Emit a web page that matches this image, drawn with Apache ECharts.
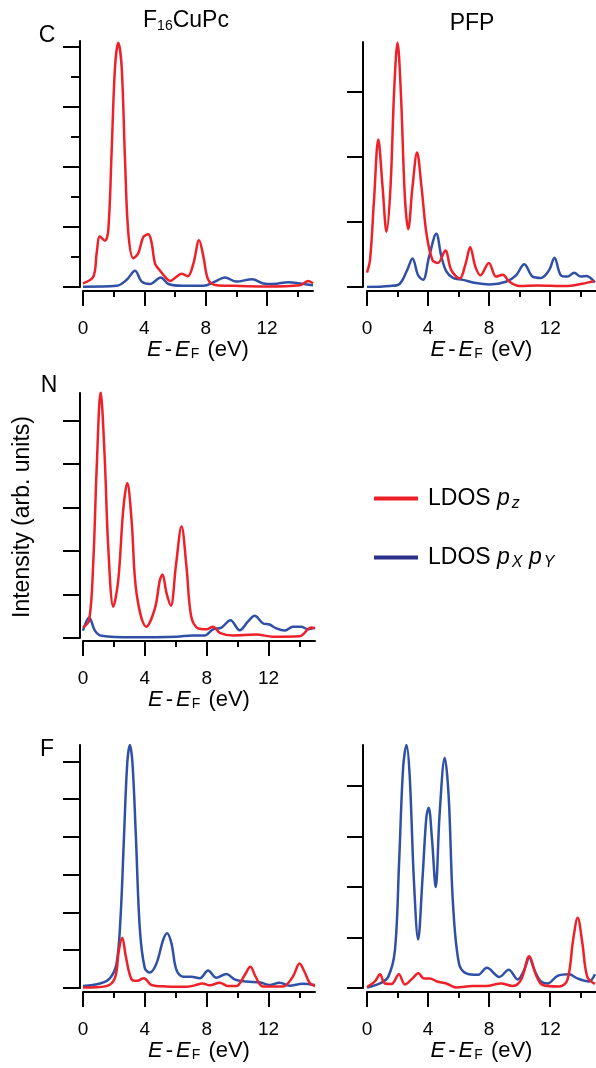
<!DOCTYPE html>
<html>
<head>
<meta charset="utf-8">
<script src="https://cdn.jsdelivr.net/npm/echarts@6/dist/echarts.min.js"></script>
<style>
  html, body { margin: 0; padding: 0; background: #fff; }
  #chart { width: 596px; height: 1068px; }
</style>
</head>
<body>
<div id="chart"></div>
<script>
// energy axis ticks (eV)
const energyTicks = [0, 4, 8, 12]
const energyMinorTicks = [2, 6, 10, 14]

// [E - EF (eV), intensity]
const cuC_pz = [[0, 0.06], [0.67, 0.17], [0.89, 0.56], [1.1, 0.84], [1.43, 0.77], [1.65, 0.95], [1.87, 2.28], [2.09, 3.67], [2.3, 4.07], [2.52, 3.67], [2.74, 2.12], [2.96, 0.89], [3.28, 0.48], [3.6, 0.56], [3.93, 0.83], [4.26, 0.88], [4.48, 0.73], [4.7, 0.39], [5.0, 0.28], [5.35, 0.17], [5.67, 0.1], [6.1, 0.17], [6.43, 0.22], [6.83, 0.18], [7.2, 0.39], [7.57, 0.78], [7.85, 0.51], [8.17, 0.12], [8.7, 0.03], [9.8, 0.02], [12.0, 0.01], [14.15, 0.03], [14.7, 0.1], [15, 0.06]]
const cuC_pxy = [[0, 0.005], [2.2, 0.02], [2.85, 0.12], [3.39, 0.27], [3.83, 0.09], [4.37, 0.05], [5.07, 0.16], [5.57, 0.05], [6.5, 0.02], [7.85, 0.02], [8.6, 0.09], [9.26, 0.16], [10.0, 0.09], [11.04, 0.13], [11.76, 0.06], [12.4, 0.05], [13.4, 0.08], [14.15, 0.06], [15, 0.03]]

const pfpC_pz = [[0, 0.22], [0.2, 0.42], [0.46, 1.34], [0.74, 2.27], [1.02, 1.54], [1.28, 0.85], [1.54, 1.54], [1.78, 3.03], [2.0, 3.76], [2.22, 2.98], [2.48, 1.39], [2.7, 0.89], [2.98, 1.54], [3.28, 2.07], [3.57, 1.54], [3.89, 0.83], [4.28, 0.42], [4.65, 0.37], [5.13, 0.56], [5.52, 0.26], [6.07, 0.13], [6.46, 0.36], [6.76, 0.61], [7.1, 0.31], [7.43, 0.18], [7.98, 0.37], [8.46, 0.16], [8.89, 0.19], [9.33, 0.08], [9.98, 0.015], [11.17, 0.025], [13.0, 0.015], [14.1, 0.05], [14.87, 0.09]]
const pfpC_pxy = [[0, 0], [1.5, 0.015], [2.15, 0.05], [2.63, 0.26], [2.98, 0.44], [3.35, 0.18], [3.67, 0.11], [4.07, 0.47], [4.54, 0.82], [4.87, 0.47], [5.2, 0.24], [5.63, 0.14], [6.28, 0.11], [7.15, 0.06], [8.02, 0.04], [9.1, 0.08], [9.76, 0.18], [10.3, 0.35], [10.85, 0.16], [11.39, 0.14], [11.93, 0.26], [12.28, 0.45], [12.7, 0.18], [13.13, 0.16], [13.57, 0.22], [14.0, 0.16], [14.37, 0.17], [14.93, 0.07]]

const cuN_pz = [[0, 0.24], [0.4, 0.41], [0.67, 1.79], [0.88, 3.86], [1.14, 5.65], [1.4, 4.17], [1.63, 2.1], [1.96, 0.72], [2.28, 1.33], [2.6, 2.94], [2.86, 3.56], [3.14, 2.71], [3.46, 1.03], [4.1, 0.26], [4.65, 0.68], [4.97, 1.33], [5.14, 1.46], [5.4, 1.03], [5.68, 0.74], [6.0, 1.64], [6.37, 2.56], [6.69, 1.64], [7.0, 0.49], [7.44, 0.22], [7.98, 0.2], [8.4, 0.26], [8.84, 0.12], [9.7, 0.06], [11.2, 0.08], [12.28, 0.03], [14.0, 0.04], [14.75, 0.24], [15, 0.22]]
const cuN_pxy = [[0, 0.17], [0.4, 0.47], [0.77, 0.17], [1.2, 0.05], [3.25, 0.015], [6.04, 0.03], [7.1, 0.06], [7.87, 0.06], [8.4, 0.2], [8.95, 0.24], [9.53, 0.41], [10.13, 0.18], [10.67, 0.38], [11.1, 0.51], [11.63, 0.34], [12.06, 0.31], [12.5, 0.22], [13.03, 0.17], [13.57, 0.26], [14.1, 0.26], [14.54, 0.2], [15, 0.24]]

const cuF_pz = [[0, 0.01], [1.5, 0.05], [2.06, 0.26], [2.32, 1.0], [2.54, 1.33], [2.77, 0.83], [3.14, 0.23], [3.5, 0.19], [3.94, 0.26], [4.43, 0.08], [5.4, 0.04], [6.69, 0.03], [7.22, 0.07], [7.72, 0.12], [8.19, 0.07], [8.84, 0.14], [9.38, 0.05], [9.91, 0.05], [10.45, 0.34], [10.82, 0.56], [11.16, 0.3], [11.63, 0.04], [12.92, 0.04], [13.57, 0.3], [14.0, 0.65], [14.32, 0.43], [14.65, 0.14], [15, 0.05]]
const cuF_pxy = [[0, 0.05], [1.1, 0.12], [1.74, 0.26], [2.17, 0.65], [2.43, 1.89], [2.65, 4.0], [2.86, 5.94], [3.03, 6.43], [3.2, 5.94], [3.42, 4.0], [3.68, 1.53], [4.0, 0.52], [4.32, 0.41], [4.75, 0.65], [5.18, 1.27], [5.44, 1.45], [5.72, 1.18], [6.04, 0.48], [6.47, 0.3], [7.0, 0.3], [7.55, 0.26], [8.09, 0.46], [8.62, 0.27], [9.27, 0.37], [9.8, 0.23], [10.56, 0.17], [11.42, 0.15], [12.06, 0.08], [12.71, 0.14], [13.35, 0.06], [14.2, 0.11], [15, 0.08]]

const pfpF_pz = [[0, 0.02], [0.52, 0.13], [0.85, 0.27], [1.17, 0.09], [1.61, 0.08], [2.09, 0.27], [2.48, 0.07], [2.98, 0.19], [3.37, 0.29], [3.72, 0.19], [4.11, 0.19], [4.59, 0.13], [5.2, 0.09], [5.85, 0.01], [6.93, 0.04], [7.8, 0.04], [8.78, 0.09], [9.54, 0.04], [10.09, 0.16], [10.63, 0.63], [11.07, 0.26], [11.5, 0.06], [12.59, 0.03], [13.13, 0.16], [13.5, 0.95], [13.8, 1.39], [14.11, 0.88], [14.43, 0.22], [14.93, 0.08]]
const pfpF_pxy = [[0, 0.01], [0.85, 0.09], [1.39, 0.22], [1.83, 0.75], [2.1, 2.47], [2.37, 4.38], [2.59, 4.81], [2.8, 4.18], [3.07, 2.14], [3.35, 0.96], [3.63, 2.14], [3.89, 3.39], [4.04, 3.57], [4.26, 2.93], [4.5, 2.0], [4.76, 3.46], [5.09, 4.56], [5.35, 3.79], [5.63, 1.68], [6.02, 0.49], [6.5, 0.29], [7.26, 0.26], [7.85, 0.4], [8.67, 0.22], [9.28, 0.36], [9.87, 0.17], [10.3, 0.36], [10.63, 0.6], [10.96, 0.36], [11.39, 0.13], [11.83, 0.09], [12.48, 0.24], [13.24, 0.27], [13.78, 0.19], [14.54, 0.13], [14.93, 0.27]]

const FONT = '"Liberation Sans", Arial, Helvetica, sans-serif'
const RED = '#ee2129'
const BLUE = '#3050a6'

const panels = [
  { left: 83, top: 41, width: 230, height: 246, yMax: 4.1, yTicks: [0, 1, 2, 3, 4], yMinor: [0.5, 1.5, 2.5, 3.5], yGap: 3, tickLen: 17, xGap: 4, pz: cuC_pz, pxy: cuC_pxy },
  { left: 367, top: 42, width: 230, height: 245, yMax: 3.77, yTicks: [0, 1, 2, 3], yMinor: [], yGap: 4, tickLen: 16, xGap: 4, pz: pfpC_pz, pxy: pfpC_pxy },
  { left: 83, top: 393, width: 232, height: 245, yMax: 5.63, yTicks: [0, 1, 2, 3, 4, 5], yMinor: [], yGap: 3, tickLen: 17, xGap: 3, pz: cuN_pz, pxy: cuN_pxy },
  { left: 83, top: 745, width: 232, height: 243, yMax: 6.43, yTicks: [0, 1, 2, 3, 4, 5, 6], yMinor: [], yGap: 3, tickLen: 17, xGap: 4, pz: cuF_pz, pxy: cuF_pxy },
  { left: 367, top: 745, width: 230, height: 243, yMax: 4.81, yTicks: [0, 1, 2, 3, 4], yMinor: [], yGap: 4, tickLen: 16, xGap: 4, pz: pfpF_pz, pxy: pfpF_pxy }
]

const axisName = '{i|E}{h|-}{i|E}{s|F}{n| (eV)}'
const nameRich = {
  i: { fontFamily: FONT, fontSize: 22, fontStyle: 'italic', color: '#000' },
  n: { fontFamily: FONT, fontSize: 22, color: '#000' },
  h: { fontFamily: FONT, fontSize: 22, color: '#000', padding: [0, 3, 0, 3] },
  s: { fontFamily: FONT, fontSize: 14, color: '#000', padding: [9, 2, 0, 1] }
}
const blackLine = { color: '#000', width: 2 }

const grid = []
const xAxis = []
const yAxis = []
const series = []

panels.forEach((p, i) => {
  grid.push({ left: p.left, top: p.top, width: p.width, height: p.height })
  xAxis.push({
    type: 'value', gridIndex: i, min: 0, max: 15, position: 'bottom', offset: p.xGap,
    axisLine: { onZero: false, lineStyle: blackLine },
    axisTick: { customValues: energyTicks, length: 15, lineStyle: blackLine },
    axisLabel: { customValues: energyTicks, fontSize: 19, fontFamily: FONT, color: '#000', margin: 28 },
    splitLine: { show: false },
    name: axisName, nameLocation: 'middle', nameGap: 46,
    nameTextStyle: { rich: nameRich }
  })
  xAxis.push({
    type: 'value', gridIndex: i, min: 0, max: 15, position: 'bottom', offset: p.xGap,
    axisLine: { show: false, onZero: false },
    axisTick: { customValues: energyMinorTicks, length: 6, lineStyle: blackLine },
    axisLabel: { show: false },
    splitLine: { show: false }
  })
  yAxis.push({
    type: 'value', gridIndex: i, min: 0, max: p.yMax, position: 'left', offset: p.yGap,
    axisLine: { show: true, onZero: false, lineStyle: blackLine },
    axisTick: { customValues: p.yTicks, length: p.tickLen, lineStyle: blackLine },
    axisLabel: { show: false },
    splitLine: { show: false }
  })
  yAxis.push({
    type: 'value', gridIndex: i, min: 0, max: p.yMax, position: 'left', offset: p.yGap,
    axisLine: { show: false, onZero: false },
    axisTick: { show: p.yMinor.length > 0, customValues: p.yMinor, length: 9, lineStyle: blackLine },
    axisLabel: { show: false },
    splitLine: { show: false }
  })
  const common = {
    type: 'line', xAxisIndex: 2 * i, yAxisIndex: 2 * i,
    smooth: 0.35, showSymbol: false, symbol: 'none', clip: true, silent: true
  }
  series.push(Object.assign({}, common, {
    name: 'pxy', data: p.pxy,
    lineStyle: { color: BLUE, width: 2.5 }, itemStyle: { color: '#2b3088' }
  }))
  series.push(Object.assign({}, common, {
    name: 'pz', data: p.pz,
    lineStyle: { color: RED, width: 2.5 }, itemStyle: { color: RED }
  }))
})

const legendRich = {
  n: { fontFamily: FONT, fontSize: 23, color: '#000', padding: [0, 0, 0, 5] },
  p: { fontFamily: FONT, fontSize: 23, fontStyle: 'italic', color: '#000', padding: [0, 2, 0, 0] },
  s: { fontFamily: FONT, fontSize: 16, fontStyle: 'italic', color: '#000', padding: [11, 0, 0, 0] },
  g: { fontFamily: FONT, fontSize: 23, color: '#000' }
}

const chart = echarts.init(document.getElementById('chart'), null, { renderer: 'canvas' })
chart.setOption({
  animation: false,
  backgroundColor: '#fff',
  grid: grid,
  xAxis: xAxis,
  yAxis: yAxis,
  series: series,
  legend: {
    data: ['pz', 'pxy'],
    orient: 'vertical', left: 369, top: 482,
    icon: 'rect', itemWidth: 44, itemHeight: 4, itemGap: 34,
    selectedMode: false,
    formatter: name => name === 'pz'
      ? '{n|LDOS }{p|p}{s|z}'
      : '{n|LDOS }{p|p}{s|X}{g| }{p|p}{s|Y}',
    textStyle: { rich: legendRich }
  },
  graphic: [
    { type: 'text', x: 186, y: 21, style: { text: '{n|F}{s|16}{n|CuPc}', align: 'center', verticalAlign: 'middle', rich: { n: { fontFamily: FONT, fontSize: 23, fill: '#000' }, s: { fontFamily: FONT, fontSize: 14, fill: '#000', padding: [11, 0, 0, 0] } } } },
    { type: 'text', x: 472, y: 24, style: { text: 'PFP', fontFamily: FONT, fontSize: 23, fill: '#000', align: 'center', verticalAlign: 'middle' } },
    { type: 'text', x: 47, y: 36, style: { text: 'C', fontFamily: FONT, fontSize: 23, fill: '#000', align: 'center', verticalAlign: 'middle' } },
    { type: 'text', x: 49, y: 386, style: { text: 'N', fontFamily: FONT, fontSize: 23, fill: '#000', align: 'center', verticalAlign: 'middle' } },
    { type: 'text', x: 47, y: 750, style: { text: 'F', fontFamily: FONT, fontSize: 23, fill: '#000', align: 'center', verticalAlign: 'middle' } },
    { type: 'text', x: 23, y: 517, rotation: Math.PI / 2, style: { text: 'Intensity (arb. units)', fontFamily: FONT, fontSize: 23, fill: '#000', align: 'center', verticalAlign: 'middle' } }
  ]
})
</script>
</body>
</html>
